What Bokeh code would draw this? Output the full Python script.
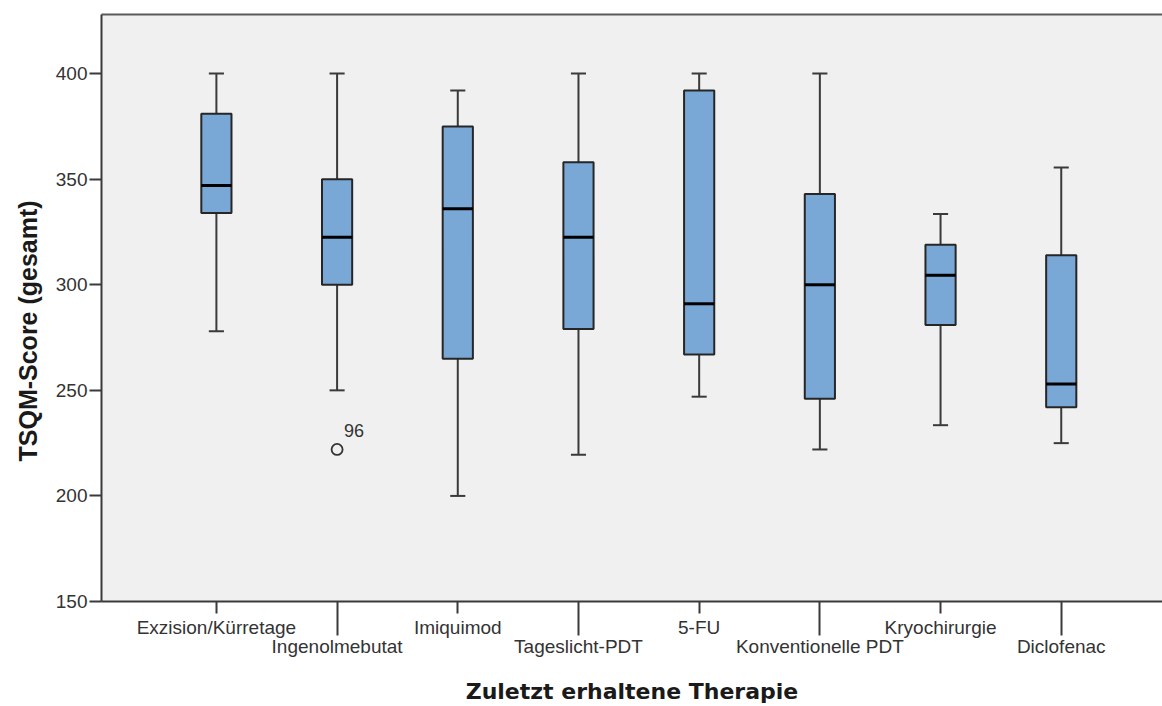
from bokeh.plotting import figure
from bokeh.models import (Range1d, FixedTicker, LinearAxis, LabelSet, Title,
                          ColumnDataSource)
from bokeh.core.properties import value
from bokeh.embed import file_html
from bokeh.resources import INLINE

# ---- data ----
categories = ["Exzision/Kürretage", "Ingenolmebutat", "Imiquimod", "Tageslicht-PDT",
              "5-FU", "Konventionelle PDT", "Kryochirurgie", "Diclofenac"]
whisker_low = [278, 250, 200, 219.5, 247, 222, 233.5, 225]
q1 = [334, 300, 265, 279, 267, 246, 281, 242]
median = [347, 322.5, 336, 322.5, 291, 300, 304.5, 253]
q3 = [381, 350, 375, 358, 392, 343, 319, 314]
whisker_high = [400, 400, 392, 400, 400, 400, 333.5, 355.5]
outlier_cat = [1]
outlier_val = [222]
outlier_lbl = ["96"]
y_ticks = [150, 200, 250, 300, 350, 400]

x_title = "Zuletzt erhaltene Therapie"
y_title = "TSQM-Score (gesamt)"

# ---- style ----
BOX_W = 0.25
CAP_W = 0.125
FONT = "Liberation Sans"
TXT = "#333333"
LINE = "#3a3a3a"

xs = list(range(len(categories)))
odd = [i for i in xs if i % 2 == 1]
even = [i for i in xs if i % 2 == 0]

p = figure(width=1162, height=706, output_backend="svg", toolbar_location=None,
           x_range=Range1d(-0.952, 7.839), y_range=Range1d(150, 428),
           min_border_left=100, min_border_right=0, min_border_top=14,
           min_border_bottom=103, x_axis_type=None, y_axis_type=None)
p.background_fill_color = "#f0f0f0"
p.border_fill_color = "white"
p.outline_line_color = None
p.grid.visible = False

src = ColumnDataSource(dict(
    x=xs, lo=whisker_low, q1=q1, med=median, q3=q3, hi=whisker_high,
    cl=[x - CAP_W / 2 for x in xs], cr=[x + CAP_W / 2 for x in xs],
    bl=[x - BOX_W / 2 for x in xs], br=[x + BOX_W / 2 for x in xs],
))

# whiskers
p.segment(x0="x", y0="q3", x1="x", y1="hi", source=src, line_color=LINE, line_width=2)
p.segment(x0="x", y0="lo", x1="x", y1="q1", source=src, line_color=LINE, line_width=2)
p.segment(x0="cl", y0="hi", x1="cr", y1="hi", source=src, line_color=LINE, line_width=2)
p.segment(x0="cl", y0="lo", x1="cr", y1="lo", source=src, line_color=LINE, line_width=2)
# boxes
p.vbar(x="x", width=BOX_W, bottom="q1", top="q3", source=src,
       fill_color="#7aa8d6", line_color="#262626", line_width=2)
p.segment(x0="bl", y0="med", x1="br", y1="med", source=src, line_color="#000000", line_width=3)

# outlier
p.scatter(x=outlier_cat, y=outlier_val, marker="circle", size=11,
          fill_color=None, line_color="#333333", line_width=1.8)
osrc = ColumnDataSource(dict(x=outlier_cat, y=outlier_val, t=outlier_lbl))
p.add_layout(LabelSet(x="x", y="y", text="t", source=osrc, x_offset=7, y_offset=19,
                      text_font=value(FONT), text_font_size=value("18px"), text_color=TXT,
                      text_align="left", text_baseline="middle"))

# y axis
ya = LinearAxis(ticker=FixedTicker(ticks=y_ticks))
ya.major_tick_out = 12
ya.major_tick_in = 0
ya.minor_tick_line_color = None
ya.axis_line_width = 2
ya.axis_line_color = LINE
ya.major_tick_line_width = 2
ya.major_tick_line_color = LINE
ya.major_label_text_font = FONT
ya.major_label_text_font_size = "19px"
ya.major_label_text_color = TXT
ya.major_label_standoff = 2
p.add_layout(ya, "left")

# y title as a left-side title, positioned along the frame
p.add_layout(Title(text=y_title, align="left", offset=140, text_font=FONT,
                   text_font_style="bold", text_font_size="25px", text_color="#1a1a1a",
                   standoff=22), "left")

# x axis 1 (next to the frame): even categories with short major ticks,
# long minor ticks at the odd categories
xa = LinearAxis(ticker=FixedTicker(ticks=even, minor_ticks=odd))
xa.major_label_overrides = {i: categories[i] for i in even}
xa.major_tick_out = 12
xa.major_tick_in = 0
xa.minor_tick_out = 34
xa.minor_tick_in = 0
xa.axis_line_width = 2
xa.axis_line_color = LINE
for attr in ("major_tick_line", "minor_tick_line"):
    setattr(xa, attr + "_width", 2)
    setattr(xa, attr + "_color", LINE)
xa.major_label_text_font = FONT
xa.major_label_text_font_size = "19px"
xa.major_label_text_color = TXT
xa.major_label_standoff = -19
p.add_layout(xa, "below")

# x axis 2 (second row): odd categories, no ticks/line
xb = LinearAxis(ticker=FixedTicker(ticks=odd))
xb.major_label_overrides = {i: categories[i] for i in odd}
xb.major_tick_out = 0
xb.major_tick_in = 0
xb.minor_tick_line_color = None
xb.major_tick_line_color = None
xb.axis_line_color = None
xb.major_label_text_font = FONT
xb.major_label_text_font_size = "19px"
xb.major_label_text_color = TXT
xb.major_label_standoff = -5
xb.axis_label = x_title
xb.axis_label_text_font = "DejaVu Sans"
xb.axis_label_text_font_style = "bold"
xb.axis_label_text_font_size = "22px"
xb.axis_label_text_color = "#1a1a1a"
xb.axis_label_standoff = 19
p.add_layout(xb, "below")

# top border
top = LinearAxis(ticker=FixedTicker(ticks=[]), major_tick_out=0, major_tick_in=0,
                 major_label_text_font_size="0px", major_label_standoff=0,
                 axis_line_width=2, axis_line_color="#5a5a5a")
p.add_layout(top, "above")

open("out.html", "w").write(file_html(p, INLINE))
